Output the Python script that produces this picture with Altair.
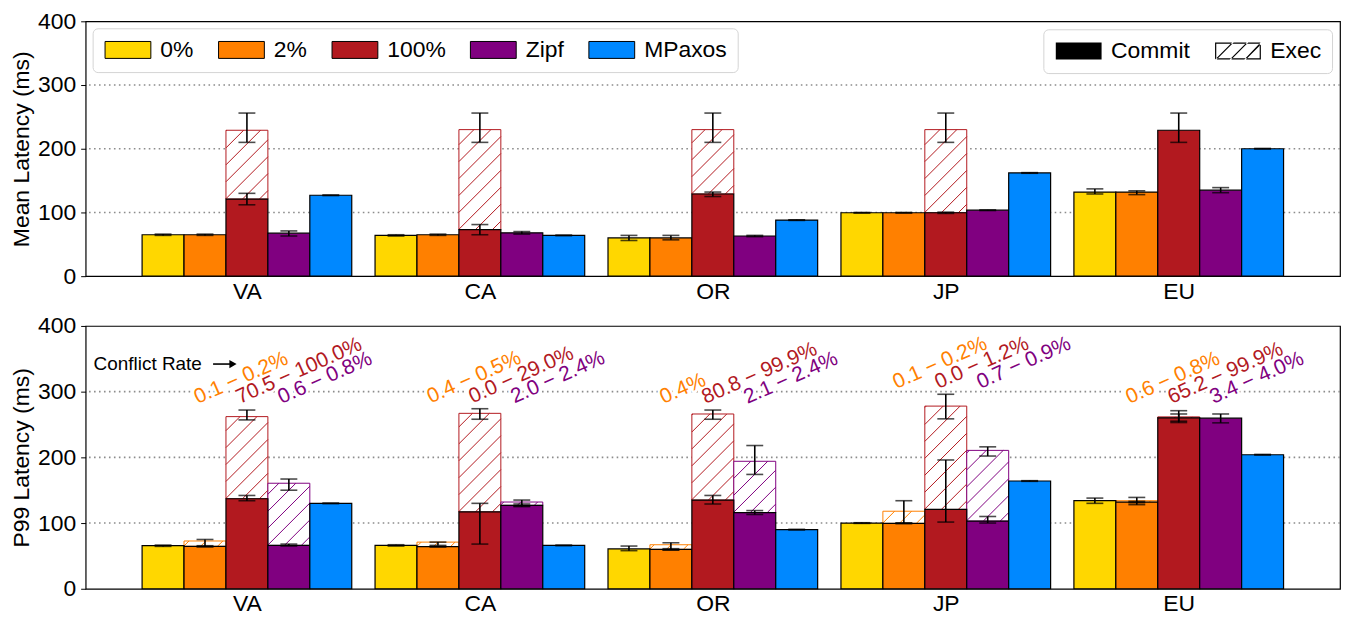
import json
import re
import altair as alt
import pandas as pd

REGIONS = ["VA", "CA", "OR", "JP", "EU"]
SERIES = ["0%", "2%", "100%", "Zipf", "MPaxos"]
COLORS = ["#FFD700", "#FF8000", "#B2191F", "#800080", "#0088FF"]
Y_TICKS = [0, 100, 200, 300, 400]
GRID = [100, 200, 300]

# ---------------- Mean latency (top panel) ----------------
MEAN_COMMIT = {
    "0%": [65, 64, 60, 99.5, 132],
    "2%": [65, 65, 60, 99.5, 132],
    "100%": [121, 73, 129, 99.5, 229],
    "Zipf": [67.5, 68, 63, 103.5, 135],
    "MPaxos": [127, 64, 88, 162, 200],
}
MEAN_COMMIT_LO = {
    "0%": [64, 63, 56, 99, 129],
    "2%": [64, 64, 57, 99, 128],
    "100%": [112, 65, 125, 98.5, 210],
    "Zipf": [63, 66, 62, 103, 131],
    "MPaxos": [126.5, 63.5, 87.5, 161.5, 199.5],
}
MEAN_COMMIT_HI = {
    "0%": [66, 65, 64, 100, 137],
    "2%": [66, 66, 64, 100, 134],
    "100%": [130, 81, 132, 100.5, 256],
    "Zipf": [71, 70, 64, 104, 139],
    "MPaxos": [127.5, 64.5, 88.5, 162.5, 200.5],
}
MEAN_TOTAL = {
    "0%": [None, None, None, None, None],
    "2%": [None, None, None, None, None],
    "100%": [229, 230, 230, 230, None],
    "Zipf": [None, None, None, None, None],
    "MPaxos": [None, None, None, None, None],
}
MEAN_TOTAL_LO = {"100%": [210, 210, 210, 210, None]}
MEAN_TOTAL_HI = {"100%": [256, 256, 256, 256, None]}

# ---------------- P99 latency (bottom panel) ----------------
P99_COMMIT = {
    "0%": [65.7, 66, 60.6, 100, 134],
    "2%": [64.6, 64, 60, 99.5, 132],
    "100%": [137, 117, 135, 120.7, 260],
    "Zipf": [66, 127, 116, 103, 259.6],
    "MPaxos": [130, 66, 90, 164, 204],
}
P99_COMMIT_LO = {
    "0%": [64.5, 65, 58, 99.5, 130],
    "2%": [64, 63.5, 59, 99, 131],
    "100%": [134, 68, 129, 101.5, 255],
    "Zipf": [65, 126, 113, 100, 252.5],
    "MPaxos": [129.5, 65.5, 89.5, 163.5, 203.5],
}
P99_COMMIT_HI = {
    "0%": [66.5, 67, 65, 100.5, 138],
    "2%": [65.5, 64.5, 61, 100, 133],
    "100%": [142, 130, 142, 196, 266],
    "Zipf": [68, 129, 119, 110, 266],
    "MPaxos": [130.5, 66.5, 90.5, 164.5, 204.5],
}
P99_TOTAL = {
    "0%": [None, None, None, None, None],
    "2%": [72.7, 71, 67, 118, 134],
    "100%": [262, 267, 266, 278, 261.6],
    "Zipf": [160.6, 132, 194, 210.6, None],
    "MPaxos": [None, None, None, None, None],
}
P99_TOTAL_LO = {
    "2%": [64, 66, 59, 100, 128],
    "100%": [257, 258, 258, 258.6, 253],
    "Zipf": [150, 125, 174, 202, None],
}
P99_TOTAL_HI = {
    "2%": [75, 71, 70, 134, 139],
    "100%": [272, 274, 272, 296, 271],
    "Zipf": [167, 135, 218, 216, None],
}

# Conflict-rate labels (bottom panel)
CONFLICT = {
    "2%": ["0.1 \u2212 0.2%", "0.4 \u2212 0.5%", "0.4%", "0.1 \u2212 0.2%", "0.6 \u2212 0.8%"],
    "100%": ["70.5 \u2212 100.0%", "0.0 \u2212 29.0%", "80.8 \u2212 99.9%", "0.0 \u2212 1.2%", "65.2 \u2212 99.9%"],
    "Zipf": ["0.6 \u2212 0.8%", "2.0 \u2212 2.4%", "2.1 \u2212 2.4%", "0.7 \u2212 0.9%", "3.4 \u2212 4.0%"],
}

# ---------------- layout / style ----------------
FONT = "Liberation Sans"
FS = 23
PLOT_W = 1260
PLOT_H_TOP, PLOT_H_BOTTOM = 256, 264
X_LO, X_HI = -0.6923, 4.6923          # group axis range (group spacing = 1)
BW = 0.18                             # bar width in group units
KX = PLOT_W / (X_HI - X_LO)           # px per group unit
HATCH_GAP = 17.0                      # px between hatch lines (vertical)
COLOR_OF = dict(zip(SERIES, COLORS))

# legend swatches (46 x 17 px); custom symbol paths are scaled by sqrt(size)/2
SYM_SIZE = 289
UNIT = 8.5


def px_path(path):
    return re.sub(r"-?\d+(?:\.\d+)?",
                  lambda m: "%.3f" % (float(m.group(0)) / UNIT), path)


RECT_PATH = px_path("M-23,-8.5H23V8.5H-23Z")
EXEC_PATH = px_path(
    "M-23,-8.5H23V8.5H-23Z M-21.8,-7.3V7.3H21.8V-7.3Z "
    "M-23,8.5L-21.4,8.5L-4.4,-8.5L-6,-8.5Z "
    "M-8.3,8.5L-6.7,8.5L10.3,-8.5L8.7,-8.5Z "
    "M6.4,8.5L8,8.5L23,-6.5L23,-8.1L22.6,-8.5Z"
)

XS = alt.Scale(domain=[X_LO, X_HI], nice=False, zero=False)
YS = alt.Scale(domain=[0, 400], nice=False)
XAX = alt.Axis(values=list(range(len(REGIONS))),
               labelExpr=json.dumps(REGIONS) + "[datum.value]",
               ticks=False, domain=False, grid=False, labelFontSize=FS,
               labelPadding=4, labelColor="black", labelFont=FONT, labelFlush=False,
               title=None)


def yaxis(title):
    return alt.Axis(values=Y_TICKS, grid=False, domain=False, tickSize=5,
                    tickColor="black", tickWidth=1, labelFontSize=FS, labelPadding=5,
                    labelColor="black", labelFont=FONT, titleFontSize=FS,
                    titleFontWeight="normal", titleColor="black", titleFont=FONT,
                    titlePadding=4, title=title)


def center(region_i, series_i):
    return region_i + (series_i - 2) * BW


def hatch_segments(xl, xr, vb, vt, ky):
    w = (xr - xl) * KX
    h = (vt - vb) * ky
    segs = []
    c = -w + HATCH_GAP / 2
    while c < h:
        x0 = max(0.0, -c)
        x1 = min(w, h - c)
        if x1 - x0 > 0.4:
            segs.append((xl + x0 / KX, xl + x1 / KX, vb + (x0 + c) / ky, vb + (x1 + c) / ky))
        c += HATCH_GAP
    return segs


def legend_common():
    return dict(title=None, direction="horizontal", symbolSize=SYM_SIZE,
                symbolOpacity=1, symbolOffset=14, labelFontSize=FS, labelFont=FONT,
                labelColor="black", labelOffset=21, columnPadding=22, padding=10,
                strokeColor="#d4d4d4", fillColor="white", cornerRadius=5)


def panel(commit, c_lo, c_hi, total, t_lo, t_hi, ytitle, top, plot_h):
    ky = plot_h / 400.0
    YAX = yaxis(ytitle)
    bar_rows, err_rows, exec_rows, hatch_rows = [], [], [], []
    for si, s in enumerate(SERIES):
        for ri, r in enumerate(REGIONS):
            xc = center(ri, si)
            xl, xr = xc - BW / 2, xc + BW / 2
            bar_rows.append({"region": r, "series": s, "xl": xl, "xr": xr,
                             "commit": commit[s][ri]})
            err_rows.append({"region": r, "series": s, "xc": xc,
                             "lo": c_lo[s][ri], "hi": c_hi[s][ri]})
            tv = total[s][ri]
            if tv is not None:
                exec_rows.append({"series": s, "col": COLOR_OF[s], "xl": xl, "xr": xr,
                                  "commit": commit[s][ri], "total": tv})
                err_rows.append({"region": r, "series": s, "xc": xc,
                                 "lo": t_lo[s][ri], "hi": t_hi[s][ri]})
                for (a, b, ya, yb) in hatch_segments(xl, xr, commit[s][ri], tv, ky):
                    hatch_rows.append({"col": COLOR_OF[s], "x": a, "x2": b,
                                       "y": ya, "y2": yb})
    bars_df = pd.DataFrame(bar_rows)
    err_df = pd.DataFrame(err_rows)
    exec_df = pd.DataFrame(exec_rows)
    hatch_df = pd.DataFrame(hatch_rows)

    layers = []
    grid = alt.Chart(pd.DataFrame({"v": GRID})).mark_rule(
        color="#8c8c8c", strokeDash=[1.6, 3.4], strokeWidth=1.6
    ).encode(y=alt.Y("v:Q", scale=YS, axis=YAX))
    layers.append(grid)

    exec_bars = alt.Chart(exec_df).mark_bar(fill="white", strokeWidth=1).encode(
        x=alt.X("xl:Q", scale=XS, axis=XAX), x2="xr:Q",
        y=alt.Y("total:Q", scale=YS, axis=YAX), y2="commit:Q",
        stroke=alt.Stroke("col:N", scale=None),
    )
    hatch = alt.Chart(hatch_df).mark_rule(strokeWidth=1).encode(
        x=alt.X("x:Q", scale=XS, axis=XAX), x2="x2:Q",
        y=alt.Y("y:Q", scale=YS, axis=YAX), y2="y2:Q",
        stroke=alt.Stroke("col:N", scale=None),
    )
    layers += [exec_bars, hatch]

    fill_legend = None
    if top:
        fill_legend = alt.Legend(orient="top-left", offset=7, columns=5,
                                 symbolType=RECT_PATH, symbolStrokeColor="black",
                                 symbolStrokeWidth=1, **legend_common())
    bars = alt.Chart(bars_df).mark_bar(stroke="black", strokeWidth=1.2).encode(
        x=alt.X("xl:Q", scale=XS, axis=XAX), x2="xr:Q",
        y=alt.Y("commit:Q", scale=YS, axis=YAX), y2=alt.Y2Datum(0),
        fill=alt.Fill("series:N", scale=alt.Scale(domain=SERIES, range=COLORS),
                      legend=fill_legend),
    )
    layers.append(bars)

    rules = alt.Chart(err_df).mark_rule(color="black", strokeWidth=1.6).encode(
        x=alt.X("xc:Q", scale=XS, axis=XAX),
        y=alt.Y("lo:Q", scale=YS, axis=YAX), y2="hi:Q")
    caps_lo = alt.Chart(err_df).mark_tick(color="black", thickness=1.6, size=17,
                                          orient="horizontal").encode(
        x=alt.X("xc:Q", scale=XS, axis=XAX), y=alt.Y("lo:Q", scale=YS, axis=YAX))
    caps_hi = alt.Chart(err_df).mark_tick(color="black", thickness=1.6, size=17,
                                          orient="horizontal").encode(
        x=alt.X("xc:Q", scale=XS, axis=XAX), y=alt.Y("hi:Q", scale=YS, axis=YAX))
    layers += [rules, caps_lo, caps_hi]

    if not top:
        ann_rows = []
        for ri, r in enumerate(REGIONS):
            group_top = max(err_df[err_df.region == r]["hi"])
            ly = max(286, group_top + 13)
            for s in ["2%", "100%", "Zipf"]:
                ann_rows.append({"col": COLOR_OF[s], "xc": center(ri, SERIES.index(s)),
                                 "label": CONFLICT[s][ri], "ly": ly})
        ann_df = pd.DataFrame(ann_rows)
        txt_kw = dict(align="left", baseline="alphabetic", angle=336, fontSize=21,
                      font=FONT, dx=-8)
        halo = alt.Chart(ann_df).mark_text(color="white", stroke="white", strokeWidth=5,
                                           strokeJoin="round", **txt_kw).encode(
            x=alt.X("xc:Q", scale=XS, axis=XAX), y=alt.Y("ly:Q", scale=YS, axis=YAX),
            text="label:N")
        ann = alt.Chart(ann_df).mark_text(**txt_kw).encode(
            x=alt.X("xc:Q", scale=XS, axis=XAX), y=alt.Y("ly:Q", scale=YS, axis=YAX),
            text="label:N", fill=alt.Fill("col:N", scale=None))
        layers += [halo, ann]
        cr = alt.Chart(pd.DataFrame({"t": ["Conflict Rate"]})).mark_text(
            align="left", baseline="middle", fontSize=19, font=FONT, color="black"
        ).encode(x=alt.value(8), y=alt.YDatum(342, scale=YS, axis=YAX), text="t:N")
        arrow = alt.Chart(pd.DataFrame({"t": ["a"]})).mark_rule(
            color="black", strokeWidth=1.6).encode(
            x=alt.value(128), x2=alt.value(146), y=alt.YDatum(342, scale=YS, axis=YAX))
        head = alt.Chart(pd.DataFrame({"t": ["a"]})).mark_point(
            shape="triangle-right", filled=True, color="black", size=70, opacity=1
        ).encode(x=alt.value(148), y=alt.YDatum(342, scale=YS, axis=YAX))
        layers += [cr, arrow, head]

    if top:
        dummy = alt.Chart(pd.DataFrame({"part": ["Commit", "Exec"]})).mark_point(
            filled=True, color="black", opacity=0
        ).encode(
            y=alt.YDatum(0, scale=YS, axis=YAX),
            shape=alt.Shape("part:N",
                            scale=alt.Scale(domain=["Commit", "Exec"],
                                            range=[RECT_PATH, EXEC_PATH]),
                            legend=alt.Legend(orient="top-right", offset=8, columns=2,
                                              symbolFillColor="black",
                                              symbolStrokeWidth=0, **legend_common())),
        )
        layers.append(dummy)

    return alt.layer(*layers).properties(width=PLOT_W, height=plot_h)


top_chart = panel(MEAN_COMMIT, MEAN_COMMIT_LO, MEAN_COMMIT_HI, MEAN_TOTAL,
                  MEAN_TOTAL_LO, MEAN_TOTAL_HI, "Mean Latency (ms)", True, PLOT_H_TOP)
bottom_chart = panel(P99_COMMIT, P99_COMMIT_LO, P99_COMMIT_HI, P99_TOTAL,
                     P99_TOTAL_LO, P99_TOTAL_HI, "P99 Latency (ms)", False, PLOT_H_BOTTOM)

chart = alt.vconcat(top_chart, bottom_chart, spacing=10).resolve_scale(
    fill="independent", shape="independent"
).properties(
    padding={"left": 2, "top": 0, "right": 0, "bottom": 0}
).configure(font=FONT).configure_view(stroke="black", strokeWidth=1.2)

chart.save("out.html", embed_options={"renderer": "svg", "actions": False})
